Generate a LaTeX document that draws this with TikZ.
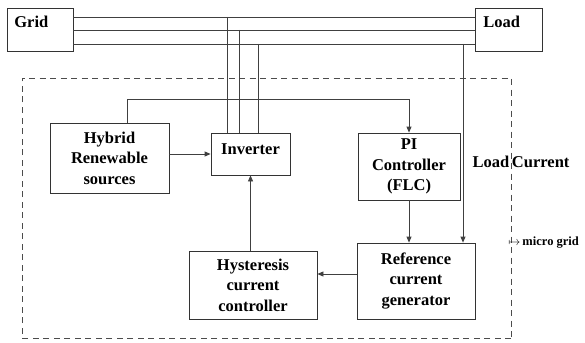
\documentclass[tikz,border=0pt]{standalone}
\usepackage{fontspec}
\setmainfont{Liberation Serif}
\usetikzlibrary{arrows.meta,calc}
\begin{document}
\begin{tikzpicture}[x=1pt,y=-1pt,
  line width=0.8pt,
  wire/.style={draw=black!75},
  blk/.style={draw=black!80, rectangle, inner sep=0pt, align=center,
    font=\fontsize{16.5}{20.5}\selectfont\bfseries},
  arr/.style={wire,-{Triangle[length=6pt,width=5pt]}},
  lbl/.style={inner sep=0pt, font=\fontsize{16.5}{20.5}\selectfont\bfseries}
]
\useasboundingbox (0,0) rectangle (585,342);
% dashed micro grid boundary
\draw[black!70, dash pattern=on 6pt off 4.5pt] (511,338) -- (22,338) -- (22,78) -- (511,78) -- (511,338);
% top boxes
\node[blk, minimum width=66pt, minimum height=43pt] (grid) at (40,29.5) {};
\node[lbl, anchor=west] (gridt) at (14,22) {Grid};
\node[blk, minimum width=67pt, minimum height=43pt] (load) at (508.5,29.5) {};
\node[lbl, anchor=west] (loadt) at (483,22) {Load};
% bus lines
\coordinate (t1) at (0,17);
\coordinate (t2) at (0,30);
\coordinate (t3) at (0,44);
\draw[wire] (grid.east |- t1) -- (load.west |- t1);
\draw[wire] (grid.east |- t2) -- (load.west |- t2);
\draw[wire] (grid.east |- t3) -- (load.west |- t3);
% blocks
\node[blk, minimum width=119pt, minimum height=70pt] (hyb) at (109.5,158) {Hybrid\\Renewable\\sources};
\node[blk, minimum width=79pt, minimum height=42pt, text depth=10pt] (inv) at (250.5,154) {Inverter};
\node[blk, minimum width=102pt, minimum height=67pt] (pi) at (409,166.5) {PI\\Controller\\(FLC)};
\node[blk, minimum width=118pt, minimum height=76pt] (ref) at (416,281) {Reference\\current\\generator};
\node[blk, minimum width=128pt, minimum height=68pt] (hys) at (253,285) {Hysteresis\\current\\controller};
% inverter to bus
\coordinate (v1) at (227,17);
\coordinate (v2) at (239,30);
\coordinate (v3) at (258,44);
\draw[wire] (v1) -- (inv.north -| v1);
\draw[wire] (v2) -- (inv.north -| v2);
\draw[wire] (v3) -- (inv.north -| v3);
% load current
\coordinate (lc) at (463,44);
\draw[arr] (lc) -- (ref.north -| lc);
\node[lbl] (lct) at (521,162) {Load\,Current};
% hybrid to PI
\coordinate (h1) at (127,99);
\draw[arr] (hyb.north -| h1) -- (h1) -| (pi.north);
% hybrid to inverter
\draw[arr] (hyb.east |- inv.west) -- (inv.west);
% PI to reference
\draw[arr] (pi.south) -- (pi.south |- ref.north);
% reference to hysteresis
\coordinate (r1) at (0,274);
\draw[arr] (ref.west |- r1) -- (hys.east |- r1);
% hysteresis to inverter
\draw[arr] (hys.north -| inv.south) -- (inv.south);
% micro grid label
\node[inner sep=0pt, anchor=west, font=\fontsize{12.5}{14}\selectfont\bfseries] (mg) at (508,243) {$\mapsto$\,micro grid};
\end{tikzpicture}
\end{document}
